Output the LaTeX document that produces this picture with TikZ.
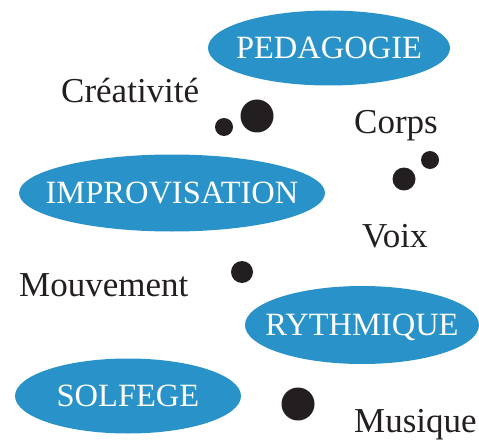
\documentclass[tikz,border=0pt]{standalone}
\usepackage{fontspec}
\setmainfont{Liberation Serif}
\usetikzlibrary{shapes.geometric}
\definecolor{bleu}{RGB}{41,146,201}
\definecolor{encre}{RGB}{35,31,32}
\begin{document}
\begin{tikzpicture}[x=1pt, y=-1pt, line join=round, line cap=round,
	bulle/.style={ellipse, fill=bleu, text=white, inner sep=0pt, text height=21pt, text depth=0pt,
		font=\fontsize{32.5}{36}\selectfont},
	mot/.style={anchor=base west, inner sep=0pt, text=encre, font=\fontsize{35}{40}\selectfont},
	point/.style={circle, fill=encre, inner sep=0pt}]
	\useasboundingbox (0,0) rectangle (479,441);
	% les bulles
	\node[bulle, minimum width=242pt, minimum height=75pt] (ped) at (329,48) {\makebox[0pt]{PEDAGOGIE}};
	\node[bulle, minimum width=306pt, minimum height=77pt] (impro) at (172,193) {\makebox[0pt]{IMPROVISATION}};
	\node[bulle, minimum width=234pt, minimum height=78pt] (ryth) at (362,325) {\makebox[0pt]{RYTHMIQUE}};
	\node[bulle, minimum width=226pt, minimum height=75pt] (solf) at (128,396) {\makebox[0pt]{SOLFEGE}};
	% les mots
	\node[mot] (crea) at (61,103) {Créativité};
	\node[mot] (corps) at (354,133) {Corps};
	\node[mot] (voix) at (362,247) {Voix};
	\node[mot] (mouv) at (19,296) {Mouvement};
	\node[mot] (musi) at (354,432) {Musique};
	% les points
	\node[point, minimum size=33pt] (p1) at (257,116) {};
	\node[point, minimum size=18pt] (p2) at (224,127) {};
	\node[point, minimum size=18pt] (p3) at (430,160) {};
	\node[point, minimum size=23pt] (p4) at (404,179) {};
	\node[point, minimum size=22pt] (p5) at (242,272) {};
	\node[point, minimum size=33pt] (p6) at (298,404) {};
\end{tikzpicture}
\end{document}
